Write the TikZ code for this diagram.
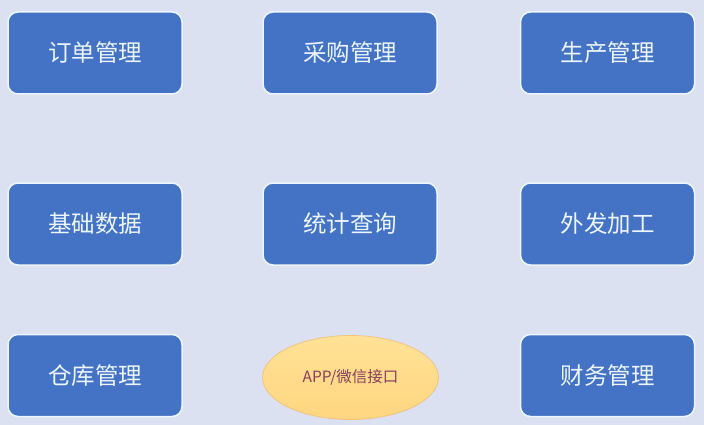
\documentclass[tikz,border=0pt]{standalone}
\usepackage{fontspec}
\newfontfamily\cjk{Noto Sans CJK SC}
\usetikzlibrary{shapes.geometric}

\definecolor{bgblue}{RGB}{220,225,242}
\definecolor{boxblue}{RGB}{68,114,196}
\definecolor{boxrim}{RGB}{235,246,255}
\definecolor{ovaltop}{RGB}{255,226,150}
\definecolor{ovalbot}{RGB}{255,214,128}
\definecolor{ovalrim}{RGB}{240,196,130}
\definecolor{ovaltext}{RGB}{140,62,92}

\tikzset{
  module/.style={draw=boxrim, line width=1.5pt, fill=boxblue, rounded corners=10pt,
    minimum width=174pt, minimum height=82pt, text=boxrim,
    font=\cjk\fontsize{23.5}{27}\selectfont},
  iface/.style={ellipse, draw=ovalrim, line width=0.8pt, top color=ovaltop,
    bottom color=ovalbot, minimum width=176pt, minimum height=84pt, inner sep=0pt,
    text=ovaltext, font=\cjk\fontsize{15.5}{18}\selectfont}
}

\begin{document}
\begin{tikzpicture}[x=1pt, y=-1pt]
      % Draw the background
      \fill[bgblue] (0,0) rectangle (704,425);
      \useasboundingbox (0,0) rectangle (704,425);

      % Top row
      \node[module] (order) at (95, 53) {订单管理};
      \node[module] (purchase) at (350, 53) {采购管理};
      \node[module] (production) at (607.5, 53) {生产管理};

      % Middle row
      \node[module] (basedata) at (95, 224) {基础数据};
      \node[module] (stats) at (350, 224) {统计查询};
      \node[module] (outsource) at (607.5, 224) {外发加工};

      % Bottom row
      \node[module] (warehouse) at (95, 375.5) {仓库管理};
      \node[iface] (app) at (350.5, 377.5) {APP/微信接口};
      \node[module] (finance) at (607.5, 375.5) {财务管理};

    \end{tikzpicture}
\end{document}
